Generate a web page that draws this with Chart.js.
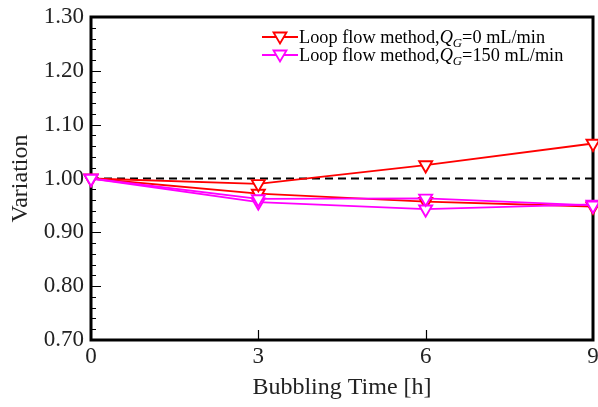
<!DOCTYPE html>
<html><head><meta charset="utf-8">
<script src="https://cdn.jsdelivr.net/npm/chart.js@4/dist/chart.umd.min.js"></script>
<style>
body{margin:0;background:#fff;}
#wrap{position:relative;width:598px;height:407px;}
#legend{position:absolute;left:262px;top:28px;font-family:"Liberation Serif","Times New Roman",serif;font-size:18.3px;color:#000;}
.row{display:flex;align-items:center;height:18px;white-space:nowrap;}
.row svg{margin-right:1px;flex:none;}
sub{font-size:0.7em;vertical-align:-0.3em;line-height:0;font-style:italic;}
</style></head>
<body><div id="wrap"><canvas id="c" width="598" height="407"></canvas>
<div id="legend"></div></div>
<script>
// ---- data ----
const times = [0, 3, 6, 9];                       // bubbling time [h]
const redRunA = [1.000, 0.990, 1.025, 1.065];      // Loop flow method, QG=0 mL/min
const redRunB = [1.000, 0.972, 0.957, 0.948];      // Loop flow method, QG=0 mL/min
const magRunA = [1.000, 0.962, 0.963, 0.950];      // Loop flow method, QG=150 mL/min
const magRunB = [1.000, 0.956, 0.943, 0.952];      // Loop flow method, QG=150 mL/min
const baseline = [1.00, 1.00, 1.00, 1.00];         // reference dashed line
const legendLabels = [
  {color:'#ff0000', html:'Loop flow method,<i>Q</i><sub>G</sub>=0 mL/min'},
  {color:'#ff00ff', html:'Loop flow method,<i>Q</i><sub>G</sub>=150 mL/min'}
];
const yMin = 0.70, yMax = 1.30, yStep = 0.10;
const xMin = 0, xMax = 9, xStep = 3;

const pts = arr => arr.map((v,i)=>({x:times[i], y:v}));
const FONT = '"Liberation Serif","Times New Roman",serif';

function series(arr, color){
  return {data: pts(arr), borderColor: color, backgroundColor: '#ffffff',
    borderWidth: 1.8, pointStyle: 'triangle', pointRotation: 180, pointRadius: 7.5,
    pointBorderWidth: 1.9, pointBorderColor: color, pointBackgroundColor: '#ffffff',
    tension: 0, clip: false};
}

const frameTicks = {
  id: 'frameTicks',
  beforeDatasetsDraw(chart){
    const ctx = chart.ctx, a = chart.chartArea;
    const ys = chart.scales.y, xs = chart.scales.x;
    ctx.save();
    ctx.strokeStyle = '#000';
    ctx.lineWidth = 1.2;
    ctx.beginPath();
    const majors = ys.ticks.map(t=>t.value);
    for (let i=0;i<majors.length;i++){
      const p = Math.round(ys.getPixelForValue(majors[i]))+0.5;
      ctx.moveTo(a.left, p); ctx.lineTo(a.left+10, p);
      if (i < majors.length-1){
        for (let k=1;k<5;k++){
          const v = majors[i] + (majors[i+1]-majors[i])*k/5;
          const q = Math.round(ys.getPixelForValue(v))+0.5;
          ctx.moveTo(a.left, q); ctx.lineTo(a.left+5, q);
        }
      }
    }
    xs.ticks.forEach(t=>{
      if (t.value>xMin && t.value<xMax){
        const p = Math.round(xs.getPixelForValue(t.value))+0.5;
        ctx.moveTo(p, a.bottom); ctx.lineTo(p, a.bottom-10);
      }
    });
    ctx.stroke();
    ctx.lineWidth = 3;
    ctx.strokeRect(a.left, a.top, a.right-a.left, a.bottom-a.top);
    ctx.restore();
  }
};

const noPad = () => ({left: 0, top: 0, right: 0, bottom: 0});

new Chart(document.getElementById('c'), {
  type: 'line',
  data: {
    datasets: [
      series(magRunA, '#ff00ff'),
      series(magRunB, '#ff00ff'),
      series(redRunA, '#ff0000'),
      series(redRunB, '#ff0000'),
      {data: pts(baseline), borderColor:'#000', borderWidth:1.8, borderDash:[8,5],
       pointRadius:0, tension:0, clip:false}
    ]
  },
  options: {
    responsive: false, animation: false, devicePixelRatio: 1,
    layout: {autoPadding: false, padding: {left: 0, right: 5, top: 17, bottom: 0}},
    plugins: {legend: {display: false}, tooltip: {enabled: false}},
    scales: {
      x: {type:'linear', min:xMin, max:xMax,
          ticks:{stepSize:xStep, color:'#222', padding:3, font:{family:FONT,size:23}},
          grid:{display:false, drawTicks:false}, border:{display:false},
          title:{display:true, text:'Bubbling Time [h]', color:'#222',
                 font:{family:FONT,size:24}, padding:{top:0,bottom:5}},
          afterFit(s){ s.height = 67; s.paddingRight = 0; s.paddingLeft = 0; s.getPadding = noPad; }},
      y: {min:yMin, max:yMax,
          ticks:{stepSize:yStep, color:'#222', padding:7, font:{family:FONT,size:23},
                 callback:v=>Number(v).toFixed(2)},
          grid:{display:false, drawTicks:false}, border:{display:false},
          title:{display:true, text:'Variation', color:'#222',
                 font:{family:FONT,size:24}, padding:{top:6,bottom:0}},
          afterFit(s){ s.width = 91; s.paddingTop = 0; s.paddingBottom = 0; s.getPadding = noPad; }}
    }
  },
  plugins: [frameTicks]
});

document.getElementById('legend').innerHTML = legendLabels.map(l =>
  `<div class="row"><svg width="36" height="18"><line x1="0" y1="9" x2="36" y2="9" stroke="${l.color}" stroke-width="1.8"/>` +
  `<polygon points="11.5,4.5 24.5,4.5 18,15.5" fill="#fff" stroke="${l.color}" stroke-width="1.8"/></svg><span>${l.html}</span></div>`
).join('');
</script>
</body></html>
